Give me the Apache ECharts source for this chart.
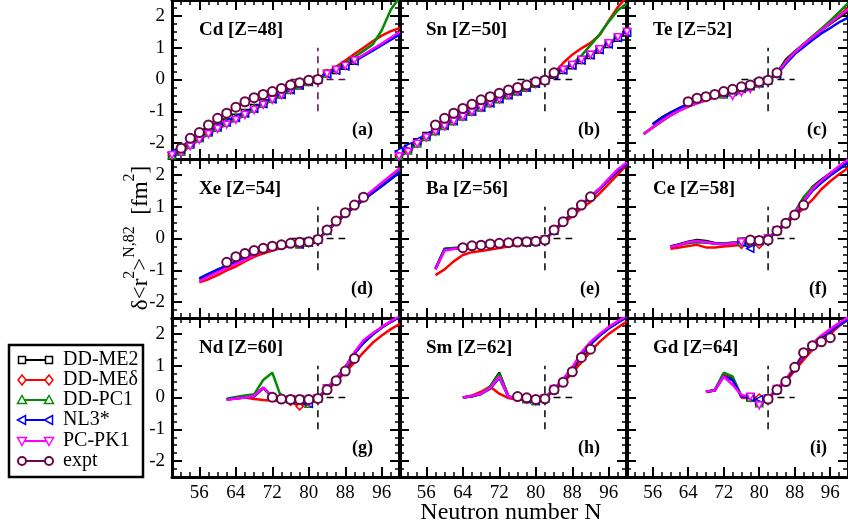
<!DOCTYPE html>
<html>
<head>
<meta charset="utf-8">
<script src="https://cdn.jsdelivr.net/npm/echarts@6/dist/echarts.min.js"></script>
<style>
  html, body { margin: 0; padding: 0; background: #fff; }
  #chart { width: 848px; height: 531px; }
</style>
</head>
<body>
<div id="chart"></div>
<script>
// neutron numbers of the theory curves (null = not computed)
const N_GRID = [50,52,54,56,58,60,62,64,66,68,70,72,74,76,78,80,82,84,86,88,90,92,94,96,98,100];
const X_LABELS = [56,64,72,80,88,96];
const Y_LABELS = [-2,-1,0,1,2];

// (a) Cd
const cdME2 = [-2.40,-2.25,-2.03,-1.83,-1.65,-1.50,-1.35,-1.20,-1.05,-0.90,-0.75,-0.60,-0.46,-0.32,-0.18,-0.07,0.00,0.18,0.30,0.43,0.59,0.76,0.93,1.10,1.27,1.44];
const cdMEd = [-2.38,-2.28,-2.06,-1.86,-1.68,-1.52,-1.37,-1.22,-1.07,-0.92,-0.77,-0.62,-0.47,-0.33,-0.19,-0.08,0.00,0.20,0.40,0.60,0.80,1.00,1.20,1.38,1.52,1.62];
const cdPC1 = [-2.38,-2.27,-2.05,-1.85,-1.67,-1.51,-1.36,-1.21,-1.06,-0.91,-0.76,-0.61,-0.47,-0.33,-0.19,-0.08,0.00,0.18,0.36,0.53,0.71,0.90,1.10,1.55,2.20,2.60];
const cdNL3 = [-2.30,-2.20,-2.00,-1.80,-1.63,-1.48,-1.34,-1.20,-1.06,-0.92,-0.77,-0.62,-0.48,-0.33,-0.18,-0.07,0.00,0.16,0.28,0.41,0.57,0.74,0.91,1.08,1.25,1.42];
const cdPK1 = [-2.38,-2.32,-2.10,-1.90,-1.72,-1.56,-1.42,-1.27,-1.12,-0.96,-0.80,-0.64,-0.49,-0.33,-0.18,-0.07,0.00,0.17,0.30,0.43,0.60,0.78,0.96,1.13,1.32,1.50];
const cdExpN = [52,54,56,58,60,62,64,66,68,70,72,74,76,78,80,82];
const cdExp = [-2.16,-1.85,-1.67,-1.43,-1.22,-1.06,-0.87,-0.70,-0.57,-0.47,-0.38,-0.28,-0.17,-0.10,-0.02,0.00];

// (b) Sn
const snME2 = [-2.35,-2.18,-1.97,-1.78,-1.61,-1.45,-1.30,-1.15,-1.01,-0.87,-0.74,-0.61,-0.49,-0.37,-0.25,-0.13,-0.02,0.15,0.30,0.45,0.61,0.77,0.94,1.12,1.31,1.48];
const snMEd = [-2.40,-2.24,-2.02,-1.82,-1.64,-1.47,-1.32,-1.17,-1.02,-0.88,-0.75,-0.62,-0.50,-0.38,-0.26,-0.14,-0.02,0.20,0.52,0.78,0.98,1.15,1.40,1.85,2.28,2.60];
const snPC1 = [-2.40,-2.23,-2.01,-1.81,-1.63,-1.46,-1.31,-1.16,-1.01,-0.87,-0.74,-0.61,-0.49,-0.37,-0.25,-0.13,-0.02,0.17,0.32,0.50,0.75,1.08,1.42,1.82,2.18,2.40];
const snNL3 = [-2.25,-2.10,-1.92,-1.75,-1.59,-1.44,-1.30,-1.15,-1.00,-0.87,-0.74,-0.61,-0.49,-0.37,-0.25,-0.13,-0.02,0.14,0.29,0.44,0.60,0.76,0.93,1.11,1.30,1.47];
const snPK1 = [-2.42,-2.27,-2.02,-1.82,-1.64,-1.47,-1.32,-1.17,-1.02,-0.88,-0.75,-0.62,-0.50,-0.38,-0.26,-0.14,-0.02,0.15,0.31,0.46,0.62,0.78,0.95,1.14,1.33,1.50];
const snExpN = [58,60,62,64,66,68,70,72,74,76,78,80,82,84];
const snExp = [-1.43,-1.22,-1.06,-0.91,-0.78,-0.64,-0.54,-0.43,-0.33,-0.25,-0.17,-0.07,-0.02,0.21];

// (c) Te
const teME2 = [null,null,null,-1.40,-1.20,-1.04,-0.90,-0.78,-0.68,-0.59,-0.51,-0.44,-0.37,-0.29,-0.21,-0.12,-0.02,0.20,0.62,0.88,1.10,1.33,1.55,1.75,1.95,2.15];
const teMEd = [null,null,-1.72,-1.52,-1.32,-1.14,-0.98,-0.85,-0.74,-0.65,-0.56,-0.48,-0.40,-0.31,-0.22,-0.12,-0.02,0.18,0.56,0.86,1.10,1.32,1.55,1.78,2.02,2.25];
const tePC1 = [null,null,-1.70,-1.50,-1.31,-1.13,-0.97,-0.84,-0.73,-0.64,-0.55,-0.47,-0.39,-0.30,-0.20,-0.11,-0.02,0.18,0.57,0.87,1.12,1.36,1.60,1.85,2.12,2.40];
const teNL3 = [null,null,null,-1.42,-1.22,-1.05,-0.90,-0.77,-0.67,-0.58,-0.50,-0.43,-0.36,-0.28,-0.20,-0.11,-0.02,0.15,0.50,0.80,1.02,1.24,1.45,1.62,1.80,1.95];
const tePK1 = [null,null,-1.72,-1.50,-1.30,-1.13,-0.98,-0.85,-0.75,-0.66,-0.57,-0.47,-0.52,-0.40,-0.30,-0.15,-0.03,0.18,0.55,0.85,1.10,1.33,1.55,1.78,2.00,2.20];
const teExpN = [64,66,68,70,72,74,76,78,80,82,84];
const teExp = [-0.70,-0.59,-0.54,-0.47,-0.38,-0.31,-0.23,-0.17,-0.07,-0.02,0.21];

// (d) Xe
const xeME2 = [null,null,null,-1.28,-1.13,-0.99,-0.86,-0.72,-0.55,-0.30,-0.38,-0.32,-0.27,-0.22,-0.18,-0.13,-0.03,0.24,0.50,0.76,1.00,1.22,1.44,1.65,1.87,2.10];
const xeMEd = [null,null,null,-1.38,-1.28,-1.15,-1.00,-0.88,-0.72,-0.58,-0.47,-0.38,-0.30,-0.24,-0.19,-0.14,-0.04,0.25,0.52,0.78,1.02,1.25,1.48,1.70,1.93,2.15];
const xePC1 = [null,null,null,-1.27,-1.12,-0.98,-0.85,-0.72,-0.56,-0.32,-0.38,-0.32,-0.27,-0.22,-0.18,-0.13,-0.03,0.24,0.51,0.77,1.01,1.24,1.46,1.68,1.90,2.12];
const xeNL3 = [null,null,null,-1.25,-1.11,-0.98,-0.86,-0.74,-0.62,-0.50,-0.40,-0.32,-0.27,-0.22,-0.18,-0.13,-0.03,0.24,0.50,0.76,1.00,1.22,1.44,1.65,1.87,2.08];
const xePK1 = [null,null,null,-1.35,-1.20,-1.06,-0.93,-0.80,-0.67,-0.52,-0.40,-0.32,-0.27,-0.22,-0.18,-0.14,-0.04,0.25,0.53,0.80,1.05,1.28,1.52,1.75,1.98,2.22];
const xeExpN = [62,64,66,68,70,72,74,76,78,80,82,84,86,88,90,92];
const xeExp = [-0.75,-0.57,-0.47,-0.38,-0.31,-0.24,-0.20,-0.15,-0.12,-0.10,-0.03,0.27,0.55,0.81,1.05,1.30];

// (e) Ba
const baME2 = [null,null,null,null,-0.95,-0.32,-0.30,-0.28,-0.26,-0.24,-0.22,-0.20,-0.17,-0.14,-0.12,-0.10,-0.04,0.25,0.52,0.79,1.05,1.30,1.55,1.84,2.15,2.35];
const baMEd = [null,null,null,null,-1.15,-0.97,-0.72,-0.52,-0.43,-0.39,-0.35,-0.30,-0.25,-0.20,-0.15,-0.11,-0.04,0.24,0.46,0.70,0.95,1.15,1.42,1.72,2.02,2.32];
const baPC1 = [null,null,null,null,-0.96,-0.33,-0.31,-0.29,-0.26,-0.24,-0.22,-0.20,-0.17,-0.14,-0.12,-0.10,-0.04,0.25,0.52,0.79,1.05,1.30,1.56,1.85,2.14,2.36];
const baNL3 = [null,null,null,null,-0.95,-0.35,-0.32,-0.30,-0.27,-0.25,-0.22,-0.20,-0.17,-0.14,-0.12,-0.10,-0.04,0.25,0.52,0.79,1.05,1.30,1.56,1.85,2.12,2.35];
const baPK1 = [null,null,null,null,-0.98,-0.38,-0.33,-0.30,-0.27,-0.25,-0.22,-0.20,-0.17,-0.14,-0.12,-0.10,-0.04,0.26,0.53,0.80,1.06,1.32,1.58,1.88,2.18,2.40];
const baExpN = [64,66,68,70,72,74,76,78,80,82,84,86,88,90,92];
const baExp = [-0.29,-0.23,-0.21,-0.17,-0.15,-0.13,-0.11,-0.10,-0.09,-0.05,0.27,0.53,0.81,1.05,1.31];

// (f) Ce
const ceME2 = [null,null,null,null,null,-0.25,-0.18,-0.10,-0.05,-0.08,-0.14,-0.16,-0.13,-0.10,-0.08,-0.06,0.00,0.25,0.50,0.82,1.25,1.62,1.85,2.05,2.25,2.42];
const ceMEd = [null,null,null,null,null,-0.32,-0.28,-0.24,-0.20,-0.28,-0.28,-0.25,-0.23,-0.20,-0.16,-0.20,-0.02,0.22,0.45,0.70,0.95,1.22,1.55,1.80,2.02,2.22];
const cePC1 = [null,null,null,null,null,-0.25,-0.20,-0.15,-0.12,-0.13,-0.16,-0.16,-0.13,-0.11,-0.10,-0.05,0.02,0.25,0.50,0.82,1.30,1.60,1.80,2.00,2.20,2.38];
const ceNL3 = [null,null,null,null,null,-0.26,-0.20,-0.12,-0.08,-0.12,-0.16,-0.18,-0.15,-0.12,-0.32,-0.08,0.00,0.24,0.50,0.80,1.15,1.50,1.75,1.98,2.18,2.38];
const cePK1 = [null,null,null,null,null,-0.27,-0.20,-0.12,-0.08,-0.12,-0.16,-0.18,-0.15,-0.12,-0.10,-0.06,0.00,0.24,0.50,0.80,1.18,1.55,1.82,2.05,2.28,2.48];
const ceExpN = [78,80,82,84,86,88,90];
const ceExp = [-0.05,-0.06,-0.05,0.24,0.48,0.74,1.05];

// (g) Nd
const ndME2 = [null,null,null,null,null,null,-0.06,-0.02,0.00,0.04,0.30,0.02,-0.04,-0.06,-0.08,-0.20,-0.02,0.28,0.60,0.95,1.38,1.72,1.98,2.20,2.38,2.55];
const ndMEd = [null,null,null,null,null,null,-0.06,-0.03,0.00,-0.05,-0.08,-0.10,-0.12,-0.14,-0.28,-0.12,-0.02,0.22,0.50,0.80,1.10,1.42,1.72,1.95,2.15,2.32];
const ndPC1 = [null,null,null,null,null,null,-0.04,0.02,0.06,0.10,0.55,0.78,-0.02,-0.05,-0.07,-0.20,-0.02,0.28,0.60,0.95,1.40,1.75,2.00,2.20,2.38,2.55];
const ndNL3 = [null,null,null,null,null,null,-0.06,-0.02,0.00,0.04,0.30,0.02,-0.04,-0.06,-0.08,-0.20,-0.02,0.28,0.60,0.95,1.38,1.72,1.98,2.20,2.38,2.55];
const ndPK1 = [null,null,null,null,null,null,-0.08,-0.03,0.00,0.05,0.32,0.02,-0.04,-0.06,-0.08,-0.15,-0.02,0.28,0.60,0.95,1.42,1.80,2.02,2.22,2.40,2.58];
const ndExpN = [72,74,76,78,80,82,84,86,88,90];
const ndExp = [0.01,-0.05,-0.06,-0.06,-0.06,-0.03,0.24,0.53,0.83,1.23];

// (h) Sm
const smME2 = [null,null,null,null,null,null,null,0.00,0.04,0.12,0.35,0.78,0.03,-0.03,-0.05,-0.10,-0.02,0.26,0.55,0.92,1.36,1.68,1.95,2.18,2.36,2.54];
const smMEd = [null,null,null,null,null,null,null,0.00,0.06,0.18,0.34,0.12,-0.02,-0.07,-0.08,-0.08,-0.02,0.24,0.45,0.78,1.10,1.45,1.75,2.00,2.20,2.40];
const smPC1 = [null,null,null,null,null,null,null,0.00,0.04,0.12,0.33,0.75,0.03,-0.03,-0.05,-0.12,-0.02,0.26,0.55,0.92,1.36,1.68,1.95,2.18,2.36,2.54];
const smNL3 = [null,null,null,null,null,null,null,0.00,0.04,0.11,0.28,0.62,0.02,-0.03,-0.05,-0.10,-0.02,0.26,0.55,0.92,1.36,1.68,1.95,2.18,2.36,2.54];
const smPK1 = [null,null,null,null,null,null,null,0.00,0.05,0.12,0.30,0.66,0.02,-0.03,-0.05,-0.12,-0.02,0.27,0.58,0.95,1.42,1.75,2.00,2.22,2.40,2.58];
const smExpN = [76,78,80,82,84,86,88,90,92];
const smExp = [0.03,-0.01,-0.06,-0.04,0.24,0.48,0.81,1.26,1.52];

// (i) Gd
const gdME2 = [null,null,null,null,null,null,null,null,null,0.18,0.23,0.75,0.62,0.03,0.00,-0.15,-0.02,0.25,0.55,0.92,1.30,1.62,1.88,2.08,2.28,2.45];
const gdMEd = [null,null,null,null,null,null,null,null,null,0.18,0.22,0.72,0.55,0.00,-0.02,0.00,-0.02,0.22,0.50,0.85,1.18,1.50,1.75,2.00,2.25,2.45];
const gdPC1 = [null,null,null,null,null,null,null,null,null,0.18,0.23,0.78,0.66,0.05,0.00,-0.18,-0.02,0.26,0.56,0.93,1.32,1.65,1.90,2.10,2.30,2.48];
const gdNL3 = [null,null,null,null,null,null,null,null,null,0.18,0.22,0.66,0.55,0.04,0.00,-0.05,-0.02,0.25,0.55,0.92,1.30,1.62,1.88,2.08,2.28,2.45];
const gdPK1 = [null,null,null,null,null,null,null,null,null,0.18,0.23,0.66,0.40,0.08,0.02,-0.25,-0.02,0.27,0.58,0.95,1.35,1.70,1.95,2.15,2.35,2.52];
const gdExpN = [82,84,86,88,90,92,94,96];
const gdExp = [-0.05,0.24,0.50,0.95,1.41,1.63,1.75,1.88];

// dashed guide lines at the N=82 shell closure
const refV = [[82,-1],[82,1]];
const refH = [[76,0],[88,0]];

const SERIF = 'Liberation Serif';
const MAROON = '#670748';
const COL_LEFT = [172, 399, 626];
const ROW_TOP = [0, 159, 318];
const PW = 228, PH = 159;

const models = [
  { name: 'DD-ME2', color: '#000000', symbol: 'rect', rotate: 0 },
  { name: 'DD-MEδ', color: '#ff0000', symbol: 'diamond', rotate: 0 },
  { name: 'DD-PC1', color: '#008b00', symbol: 'triangle', rotate: 0 },
  { name: 'NL3*', color: '#0000ff', symbol: 'triangle', rotate: 90 },
  { name: 'PC-PK1', color: '#ff00ff', symbol: 'triangle', rotate: 180 },
];

// sym: N range where theory markers are drawn; symRG: same for DD-MEδ / DD-PC1
const panels = [
  { label: 'Cd [Z=48]', tag: '(a)', th: [cdME2, cdMEd, cdPC1, cdNL3, cdPK1], expN: cdExpN, exp: cdExp, sym: [50, 90], symRG: [50, 84], ref: MAROON },
  { label: 'Sn [Z=50]', tag: '(b)', th: [snME2, snMEd, snPC1, snNL3, snPK1], expN: snExpN, exp: snExp, sym: [50, 100], symRG: [50, 84], ref: '#000' },
  { label: 'Te [Z=52]', tag: '(c)', th: [teME2, teMEd, tePC1, teNL3, tePK1], expN: teExpN, exp: teExp, sym: [72, 84], symRG: [72, 84], ref: '#000' },
  { label: 'Xe [Z=54]', tag: '(d)', th: [xeME2, xeMEd, xePC1, xeNL3, xePK1], expN: xeExpN, exp: xeExp, sym: [78, 84], symRG: [78, 84], ref: '#000' },
  { label: 'Ba [Z=56]', tag: '(e)', th: [baME2, baMEd, baPC1, baNL3, baPK1], expN: baExpN, exp: baExp, sym: [78, 84], symRG: [78, 84], ref: '#000' },
  { label: 'Ce [Z=58]', tag: '(f)', th: [ceME2, ceMEd, cePC1, ceNL3, cePK1], expN: ceExpN, exp: ceExp, sym: [76, 84], symRG: [76, 84], ref: '#000' },
  { label: 'Nd [Z=60]', tag: '(g)', th: [ndME2, ndMEd, ndPC1, ndNL3, ndPK1], expN: ndExpN, exp: ndExp, sym: [76, 84], symRG: [76, 84], ref: '#000' },
  { label: 'Sm [Z=62]', tag: '(h)', th: [smME2, smMEd, smPC1, smNL3, smPK1], expN: smExpN, exp: smExp, sym: [78, 84], symRG: [78, 84], ref: '#000' },
  { label: 'Gd [Z=64]', tag: '(i)', th: [gdME2, gdMEd, gdPC1, gdNL3, gdPK1], expN: gdExpN, exp: gdExp, sym: [78, 84], symRG: [78, 84], ref: '#000' },
];

const grids = [], xAxes = [], yAxes = [], series = [], graphics = [];
const tickLabel = { fontFamily: SERIF, fontSize: 19, color: '#000' };
const frameLine = { show: true, onZero: false, lineStyle: { color: '#000', width: 3 } };
const noLine = { show: false, onZero: false };

panels.forEach((p, i) => {
  const r = Math.floor(i / 3), c = i % 3;
  const left = COL_LEFT[c], top = ROW_TOP[r];
  grids.push({ left, top, width: PW, height: PH, containLabel: false });

  // each side: one axis for minor ticks + frame line, one for the long major ticks
  ['bottom', 'top'].forEach(pos => {
    xAxes.push({
      gridIndex: i, type: 'value', position: pos, min: 50, max: 100, interval: 2,
      axisLine: frameLine, splitLine: { show: false },
      axisTick: { inside: true, length: 5, lineStyle: { color: '#000', width: 1.5 } },
      axisLabel: pos === 'bottom' && r === 2
        ? { ...tickLabel, customValues: X_LABELS, margin: 7 }
        : { show: false },
    });
    xAxes.push({
      gridIndex: i, type: 'value', position: pos, min: 50, max: 100,
      axisLine: noLine, splitLine: { show: false }, axisLabel: { show: false },
      axisTick: { inside: true, length: 10, customValues: X_LABELS, lineStyle: { color: '#000', width: 2 } },
    });
  });
  ['left', 'right'].forEach(pos => {
    yAxes.push({
      gridIndex: i, type: 'value', position: pos, min: -2.5, max: 2.5, interval: 0.25,
      axisLine: frameLine, splitLine: { show: false },
      axisTick: { inside: true, length: 5, lineStyle: { color: '#000', width: 1.5 } },
      axisLabel: pos === 'left' && c === 0
        ? { ...tickLabel, customValues: Y_LABELS, margin: 7 }
        : { show: false },
    });
    yAxes.push({
      gridIndex: i, type: 'value', position: pos, min: -2.5, max: 2.5,
      axisLine: noLine, splitLine: { show: false }, axisLabel: { show: false },
      axisTick: { inside: true, length: 10, customValues: Y_LABELS, lineStyle: { color: '#000', width: 2 } },
    });
  });

  const ax = { xAxisIndex: i * 4, yAxisIndex: i * 4 };
  [refV, refH].forEach(d => series.push({
    type: 'line', ...ax, data: d, symbol: 'none', silent: true,
    lineStyle: { color: p.ref, width: 1.5, type: [7, 5] },
  }));

  p.th.forEach((arr, k) => {
    const m = models[k];
    const [lo, hi] = (k === 1 || k === 2) ? p.symRG : p.sym;
    series.push({
      name: m.name, type: 'line', ...ax,
      data: N_GRID.map((n, j) => [n, arr[j]]).filter(d => d[1] !== null),
      symbol: v => (v[0] >= lo && v[0] <= hi ? m.symbol : 'none'),
      symbolRotate: m.rotate, symbolSize: 7,
      itemStyle: { color: '#fff', borderColor: m.color, borderWidth: 1.5 },
      lineStyle: { color: m.color, width: 2.5 },
    });
  });

  series.push({
    name: 'expt', type: 'line', ...ax,
    data: p.expN.map((n, j) => [n, p.exp[j]]),
    symbol: 'circle', symbolSize: 9,
    itemStyle: { color: '#fff', borderColor: MAROON, borderWidth: 2 },
    lineStyle: { color: MAROON, width: 2 },
  });

  const zeroY = top + PH / 2;
  graphics.push({
    type: 'text', x: left + 27, y: zeroY - 49, z: 100,
    style: { text: p.label, font: 'bold 19px "Liberation Serif"', fill: '#000', align: 'left', verticalAlign: 'middle' },
  });
  graphics.push({
    type: 'text', x: left + PW - 27, y: zeroY + 51, z: 100,
    style: { text: p.tag, font: 'bold 18px "Liberation Serif"', fill: '#000', align: 'right', verticalAlign: 'middle' },
  });
});

// axis titles
graphics.push({
  type: 'text', x: 511, y: 513,
  style: { text: 'Neutron number N', font: '24px "Liberation Serif"', fill: '#000', align: 'center', verticalAlign: 'middle' },
});
graphics.push({
  type: 'text', x: 137, y: 238, rotation: Math.PI / 2,
  style: {
    text: '{b|δ<r}{s|2}{b|>}{s|N,82}{b|  [fm}{s|2}{b|]}',
    align: 'center', verticalAlign: 'middle', fill: '#000',
    rich: {
      b: { fontFamily: SERIF, fontSize: 23, lineHeight: 30, verticalAlign: 'bottom' },
      s: { fontFamily: SERIF, fontSize: 16, lineHeight: 16, verticalAlign: 'top' },
    },
  },
});

// legend box drawn with line + marker at both ends
function marker(kind, cx, cy, color) {
  const style = { fill: '#fff', stroke: color, lineWidth: 1.5 };
  if (kind === 'square') return { type: 'rect', shape: { x: cx - 3.5, y: cy - 3.5, width: 7, height: 7 }, style };
  if (kind === 'circle') return { type: 'circle', shape: { cx, cy, r: 4 }, style: { ...style, lineWidth: 2 } };
  const pts = {
    diamond: [[cx, cy - 5], [cx + 4, cy], [cx, cy + 5], [cx - 4, cy]],
    up: [[cx, cy - 4.5], [cx + 4.5, cy + 3.5], [cx - 4.5, cy + 3.5]],
    left: [[cx - 4.5, cy], [cx + 3.5, cy - 4.5], [cx + 3.5, cy + 4.5]],
    down: [[cx, cy + 4.5], [cx + 4.5, cy - 3.5], [cx - 4.5, cy - 3.5]],
  }[kind];
  return { type: 'polygon', shape: { points: pts }, style };
}
const legendKinds = ['square', 'diamond', 'up', 'left', 'down', 'circle'];
const legendRows = [360, 380, 400, 420, 441, 461];
const legendItems = models.map(m => ({ name: m.name, color: m.color })).concat([{ name: 'expt', color: MAROON }]);
const legendChildren = [{ type: 'rect', shape: { x: 9, y: 345, width: 134, height: 132 }, style: { fill: '#fff', stroke: '#000', lineWidth: 2.5 } }];
legendItems.forEach((it, k) => {
  const y = legendRows[k];
  legendChildren.push({ type: 'line', shape: { x1: 21, y1: y, x2: 50, y2: y }, style: { stroke: it.color, lineWidth: 2 } });
  legendChildren.push(marker(legendKinds[k], 22, y, it.color));
  legendChildren.push(marker(legendKinds[k], 49, y, it.color));
  legendChildren.push({ type: 'text', x: 63, y: y, style: { text: it.name, font: '20px "Liberation Serif"', fill: '#000', align: 'left', verticalAlign: 'middle' } });
});
graphics.push({ type: 'group', z: 100, children: legendChildren });

const chart = echarts.init(document.getElementById('chart'));
chart.setOption({
  animation: false,
  backgroundColor: '#fff',
  grid: grids,
  xAxis: xAxes,
  yAxis: yAxes,
  series,
  graphic: graphics,
});
</script>
</body>
</html>
